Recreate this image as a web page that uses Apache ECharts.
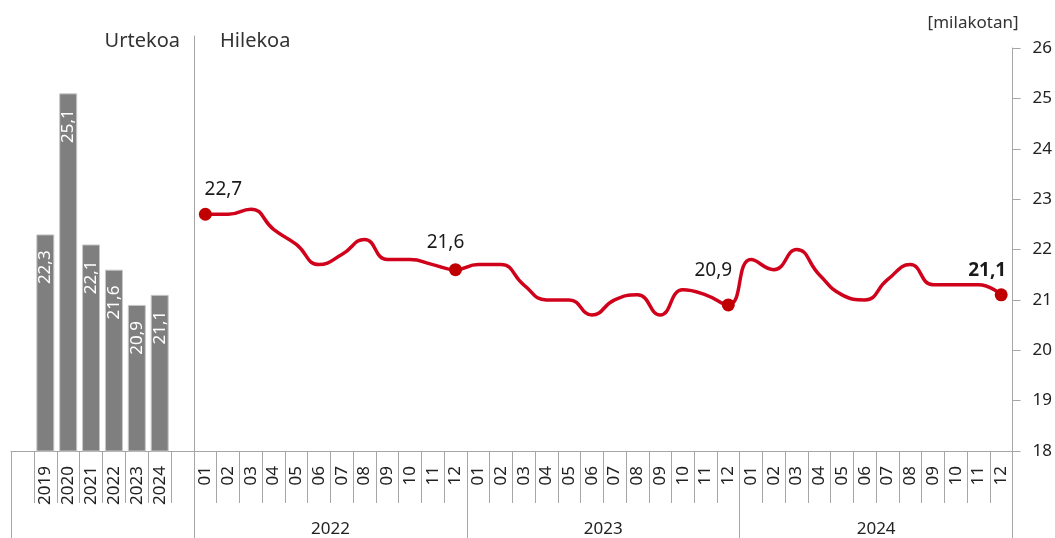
<!DOCTYPE html>
<html>
<head>
<meta charset="utf-8">
<script src="https://cdn.jsdelivr.net/npm/echarts@6/dist/echarts.min.js"></script>
<style>
  html, body { margin: 0; padding: 0; background: #fff; }
  #main { width: 1055px; height: 538px; }
</style>
</head>
<body>
<div id="main"></div>
<script>
// urteko batezbestekoak
var years = ['2019', '2020', '2021', '2022', '2023', '2024'];
var annual = [22.3, 25.1, 22.1, 21.6, 20.9, 21.1];

// hileko datuak 2022-2024
var monthLabels = ['01', '02', '03', '04', '05', '06', '07', '08', '09', '10', '11', '12'];
var monthYears = ['2022', '2023', '2024'];
var monthly = [
    22.7, 22.7, 22.8, 22.4, 22.1, 21.7, 21.9, 22.2, 21.8, 21.8, 21.7, 21.6,
    21.7, 21.7, 21.3, 21.0, 21.0, 20.7, 21.0, 21.1, 20.7, 21.2, 21.1, 20.9,
    21.8, 21.6, 22.0, 21.5, 21.1, 21.0, 21.4, 21.7, 21.3, 21.3, 21.3, 21.1
];
var yMin = 18, yMax = 26, yStep = 1;

var FONT = "'Segoe UI', 'Noto Sans', sans-serif";
var GRAY = '#a6a6a6';
var RED = '#d0021b';

var fmt = function (v) { return String(v).replace('.', ','); };

// etiketatutako puntuak (hasiera eta urte bakoitzaren amaiera)
var labelled = {
    0: { offset: [18, -4] },
    11: { offset: [-10, -6] },
    23: { offset: [-15, -13] },
    35: { offset: [-14, -3], bold: true }
};

var barCats = [''].concat(years, ['']);
var barData = ['-'].concat(annual, ['-']);
var monthCats = [];
monthYears.forEach(function () { monthCats = monthCats.concat(monthLabels); });

var lineData = monthly.map(function (v, i) {
    var l = labelled[i];
    if (!l) return { value: v, symbolSize: 0 };
    return {
        value: v,
        symbol: 'circle',
        symbolSize: 13,
        itemStyle: { color: '#c00000' },
        label: {
            show: true,
            position: 'top',
            offset: l.offset,
            fontSize: 19,
            fontWeight: l.bold ? 'bold' : 'normal',
            color: '#1a1a1a',
            fontFamily: FONT,
            formatter: function (p) { return fmt(p.value); }
        }
    };
});

// ezkerreko grafikoaren marra bertikala pixka bat gorago hasten da
var plotTop = 48, plotBottom = 451, sepTop = 36;
var pxPerUnit = (plotBottom - plotTop) / (yMax - yMin);
var leftMax = yMax + (plotTop - sepTop) / pxPerUnit;

var chart = echarts.init(document.getElementById('main'));
chart.setOption({
    animation: false,
    textStyle: { fontFamily: FONT },
    title: [
        { text: 'Urtekoa', right: 875, top: 31, padding: 0,
          textStyle: { fontSize: 20, fontWeight: 'normal', color: '#333', fontFamily: FONT } },
        { text: 'Hilekoa', left: 220, top: 31, padding: 0,
          textStyle: { fontSize: 20, fontWeight: 'normal', color: '#333', fontFamily: FONT } }
    ],
    grid: [
        { left: 11, width: 183, top: sepTop, height: plotBottom - sepTop },
        { left: 194, width: 821, top: plotTop, height: plotBottom - plotTop }
    ],
    xAxis: [
        {
            gridIndex: 0, type: 'category', data: barCats, position: 'bottom',
            axisLine: { lineStyle: { color: GRAY } },
            axisTick: { show: true, interval: 0, length: 52, lineStyle: { color: GRAY } },
            axisLabel: { interval: 0, rotate: 90, margin: 15, fontSize: 17, color: '#222' }
        },
        {
            gridIndex: 0, type: 'category', data: [''], position: 'bottom',
            axisLine: { show: false },
            axisTick: { show: true, length: 87, lineStyle: { color: GRAY } },
            axisLabel: { show: false }
        },
        {
            gridIndex: 1, type: 'category', data: monthCats, position: 'bottom',
            axisLine: { lineStyle: { color: GRAY } },
            axisTick: { show: true, interval: 0, length: 52, lineStyle: { color: GRAY } },
            axisLabel: { interval: 0, rotate: 90, margin: 15, fontSize: 17, color: '#222' }
        },
        {
            gridIndex: 1, type: 'category', data: monthYears, position: 'bottom',
            axisLine: { show: false },
            axisTick: { show: true, interval: 0, length: 87, lineStyle: { color: GRAY } },
            axisLabel: { interval: 0, margin: 70, fontSize: 17, color: '#222' }
        }
    ],
    yAxis: [
        {
            gridIndex: 0, type: 'value', position: 'right', min: yMin, max: leftMax,
            axisLine: { show: true, lineStyle: { color: GRAY } },
            axisTick: { show: false }, axisLabel: { show: false }, splitLine: { show: false }
        },
        {
            gridIndex: 1, type: 'value', position: 'right', min: yMin, max: yMax, interval: yStep,
            name: '[milakotan]', nameLocation: 'end', nameGap: 16,
            nameTextStyle: { fontSize: 17, color: '#333', align: 'right', padding: [0, -6, 0, 0] },
            axisLine: { show: true, lineStyle: { color: GRAY } },
            axisTick: { show: true, length: 8, lineStyle: { color: GRAY } },
            axisLabel: { margin: 20, fontSize: 17, color: '#222' },
            splitLine: { show: false }
        }
    ],
    series: [
        {
            type: 'bar', xAxisIndex: 0, yAxisIndex: 0,
            data: barData, barWidth: 18,
            itemStyle: { color: '#7f7f7f', borderColor: '#c8c8c8', borderWidth: 1 },
            label: {
                show: true, position: 'insideTop', rotate: 90, align: 'right',
                verticalAlign: 'middle', distance: 16,
                fontSize: 17, color: '#fff',
                formatter: function (p) { return fmt(p.value); }
            }
        },
        {
            type: 'line', xAxisIndex: 2, yAxisIndex: 1,
            data: lineData, smooth: 0.5,
            symbol: 'circle', showSymbol: true,
            lineStyle: { color: RED, width: 3.5 },
            itemStyle: { color: RED }
        }
    ]
});
</script>
</body>
</html>
